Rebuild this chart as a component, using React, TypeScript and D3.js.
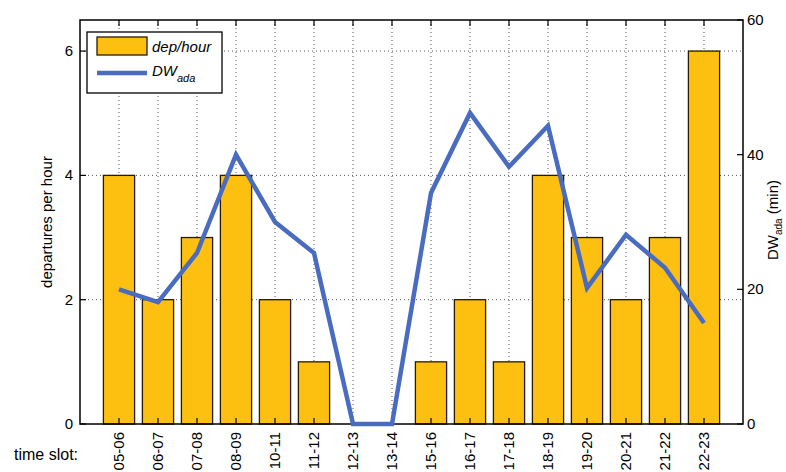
import React from "react";
import * as d3 from "d3";

const categories = ["05-06","06-07","07-08","08-09","10-11","11-12","12-13","13-14","15-16","16-17","17-18","18-19","19-20","20-21","21-22","22-23"];
const depPerHour = [4,2,3,4,2,1,0,0,1,2,1,4,3,2,3,6];
const dwAda = [20,18.1,25.4,40,30,25.4,0,0,34.3,46.2,38.2,44.3,20.2,28.1,23.2,15];
const leftTicks = [0,2,4,6];
const rightTicks = [0,20,40,60];

const W = 786, H = 472;
const L = 80, R = 743, T = 20, B = 424;
const FONT = "'Liberation Sans', Arial, sans-serif";
const BAR = "#FDC010";
const LINE = "#4A6CC0";

export default function App() {
  const x = d3.scaleLinear().domain([0, categories.length + 1]).range([L, R]);
  const yL = d3.scaleLinear().domain([0, 6.5]).range([B, T]);
  const yR = d3.scaleLinear().domain([0, 60]).range([B, T]);
  const bw = x(0.8) - x(0);
  const line = d3.line<number>().x((_, i) => x(i + 1)).y(d => yR(d));
  const tl = 6;
  return (
    <svg width={W} height={H} style={{ position: "absolute", left: 0, top: 0, background: "#fff" }} fontFamily={FONT}>
      {/* grid */}
      <g stroke="#555" strokeWidth={1} strokeDasharray="1,3">
        {categories.map((c, i) => (
          <line key={c} x1={x(i + 1)} x2={x(i + 1)} y1={T} y2={B} />
        ))}
        {leftTicks.filter(t => t > 0).map(t => (
          <line key={t} x1={L} x2={R} y1={yL(t)} y2={yL(t)} />
        ))}
      </g>
      {/* bars */}
      <g>
        {depPerHour.map((v, i) => v > 0 && (
          <rect key={i} x={x(i + 1) - bw / 2} y={yL(v)} width={bw} height={yL(0) - yL(v)} fill={BAR} stroke="#2a1a00" strokeWidth={1.3} />
        ))}
      </g>
      {/* frame */}
      <rect x={L} y={T} width={R - L} height={B - T} fill="none" stroke="#000" strokeWidth={1.5} />
      {/* ticks */}
      <g stroke="#000" strokeWidth={1.2}>
        {categories.map((c, i) => (
          <g key={c}>
            <line x1={x(i + 1)} x2={x(i + 1)} y1={B} y2={B - tl} />
            <line x1={x(i + 1)} x2={x(i + 1)} y1={T} y2={T + tl} />
          </g>
        ))}
        {leftTicks.map(t => <line key={t} x1={L} x2={L + tl} y1={yL(t)} y2={yL(t)} />)}
        {rightTicks.map(t => <line key={t} x1={R} x2={R - tl} y1={yR(t)} y2={yR(t)} />)}
      </g>
      {/* line */}
      <path d={line(dwAda) || ""} fill="none" stroke={LINE} strokeWidth={4.5} strokeLinejoin="miter" />
      {/* tick labels */}
      <g fontSize={15} fill="#000">
        {leftTicks.map(t => (
          <text key={t} x={L - 7} y={yL(t) + 5} textAnchor="end">{t}</text>
        ))}
        {rightTicks.map(t => (
          <text key={t} x={R + 4} y={yR(t) + 5} textAnchor="start">{t}</text>
        ))}
        {categories.map((c, i) => (
          <text key={c} transform={`translate(${x(i + 1) + 5},${B + 8}) rotate(-90)`} textAnchor="end">{c}</text>
        ))}
        <text x={14} y={460} fontSize={16}>time slot:</text>
        <text transform={`translate(52,${(T + B) / 2}) rotate(-90)`} textAnchor="middle">departures per hour</text>
        <text transform={`translate(778,${(T + B) / 2 - 2}) rotate(-90)`} textAnchor="middle">
          DW<tspan fontSize={10} dy={4}>ada</tspan><tspan dy={-4}> (min)</tspan>
        </text>
      </g>
      {/* legend */}
      <g>
        <rect x={87} y={32} width={135} height={61} fill="#fff" stroke="#000" strokeWidth={1.3} />
        <rect x={97} y={37} width={50} height={18} fill={BAR} stroke="#2a1a00" strokeWidth={1.3} />
        <text x={152} y={52} fontSize={15} fontStyle="italic">dep/hour</text>
        <line x1={97} x2={147} y1={73} y2={73} stroke={LINE} strokeWidth={4.5} />
        <text x={152} y={76} fontSize={15} fontStyle="italic">DW<tspan fontSize={11} dy={6}>ada</tspan></text>
      </g>
    </svg>
  );
}
